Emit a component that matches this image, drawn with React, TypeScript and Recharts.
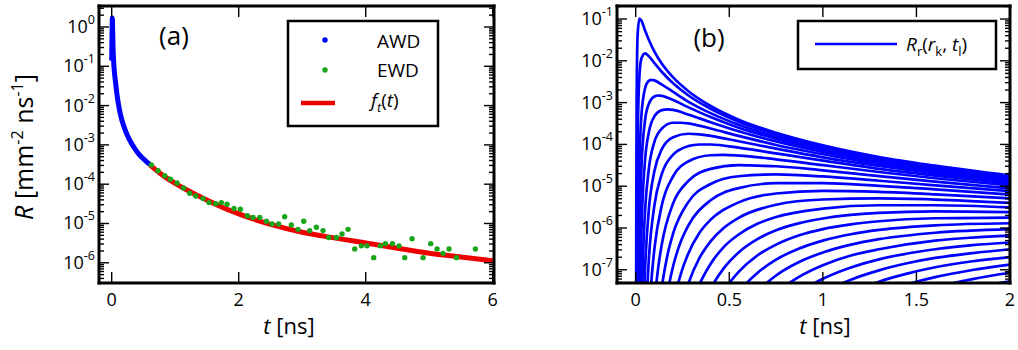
import React from "react";
import { ComposedChart, LineChart, Line, Scatter, XAxis, YAxis } from "recharts";

const FONT = "'Open Sans', 'Noto Sans', sans-serif";
const BLUE = "#0000ff";
const GREEN = "#19a519";
const RED = "#ee0000";

// panel (a): [t (ns), R (mm^-2 ns^-1)]
const awd = [
  [0, 0.14], [0.005, 0.6], [0.01, 1.7], [0.015, 0.9], [0.02, 0.35], [0.03, 0.14],
  [0.045, 0.065], [0.06, 0.04], [0.08, 0.021], [0.1, 0.0126], [0.13, 0.0068],
  [0.16, 0.0043], [0.2, 0.0027], [0.25, 0.0017], [0.3, 0.00118], [0.35, 0.00087],
  [0.4, 0.00066], [0.45, 0.00053], [0.5, 0.00044], [0.55, 0.00037], [0.6, 0.00032],
];

const ewd = [
  [0.625, 3.1e-4], [0.73, 2.2e-4], [0.835, 1.65e-4], [0.924, 1.33e-4], [1.029, 1.07e-4],
  [1.134, 8.0e-5], [1.228, 5.9e-5], [1.323, 5.0e-5], [1.438, 4.3e-5], [1.533, 3.4e-5],
  [1.638, 3.2e-5], [1.727, 3.4e-5], [1.816, 3.1e-5], [1.926, 2.4e-5], [2.026, 2.3e-5],
  [2.136, 1.58e-5], [2.226, 1.43e-5], [2.331, 1.43e-5], [2.436, 1.14e-5], [2.525, 9.7e-6],
  [2.63, 9.7e-6], [2.724, 1.49e-5], [2.829, 9.2e-6], [2.934, 7.1e-6], [3.024, 1.14e-5],
  [3.118, 6.6e-6], [3.223, 8.0e-6], [3.328, 6.6e-6], [3.417, 4.4e-6], [3.538, 4.4e-6],
  [3.627, 5.4e-6], [3.722, 7.1e-6], [3.827, 2.24e-6], [3.932, 2.7e-6], [4.021, 2.7e-6],
  [4.126, 1.35e-6], [4.231, 2.7e-6], [4.31, 3.07e-6], [4.42, 3.07e-6], [4.525, 2.7e-6],
  [4.614, 1.35e-6], [4.73, 4.1e-6], [4.903, 1.35e-6], [5.024, 3.07e-6], [5.123, 2.24e-6],
  [5.218, 1.74e-6], [5.312, 2.24e-6], [5.428, 1.35e-6], [5.727, 2.24e-6],
];

const fit = [
  [0.6, 3.1e-4], [0.8, 1.7e-4], [1.0, 1.05e-4], [1.2, 6.9e-5], [1.4, 4.7e-5],
  [1.65, 3.0e-5], [2.0, 1.75e-5], [2.5, 9.5e-6], [3.0, 6.0e-6], [3.5, 4.3e-6],
  [4.0, 3.2e-6], [4.5, 2.35e-6], [5.0, 1.75e-6], [5.5, 1.4e-6], [6.0, 1.12e-6],
];

// panel (b): R_r(r_k, t_l), one list of [t, R] per radius r_k
const rCurves = [
  [[0.002, 1.3e-9], [0.003, 3.2e-6], [0.005, 1.1e-3], [0.01, 4.0e-2], [0.02, 0.103], [0.03, 9.2e-2], [0.05, 5.3e-2], [0.07, 3.2e-2], [0.1, 1.66e-2], [0.14, 8.5e-3], [0.2, 4.0e-3], [0.28, 1.9e-3], [0.4, 8.3e-4], [0.55, 3.9e-4], [0.75, 1.9e-4], [1, 9.5e-5], [1.3, 5.0e-5], [1.6, 3.1e-5], [2, 1.8e-5]],
  [[0.005, 3.6e-9], [0.01, 7.2e-5], [0.015, 1.3e-3], [0.02, 4.4e-3], [0.03, 1.12e-2], [0.05, 1.51e-2], [0.07, 1.29e-2], [0.1, 8.8e-3], [0.14, 5.4e-3], [0.2, 2.9e-3], [0.28, 1.5e-3], [0.4, 7.1e-4], [0.55, 3.5e-4], [0.75, 1.73e-4], [1, 8.9e-5], [1.3, 4.8e-5], [1.6, 2.9e-5], [2, 1.73e-5]],
  [[0.01, 4.9e-9], [0.015, 2.1e-6], [0.02, 3.6e-5], [0.03, 4.6e-4], [0.05, 2.2e-3], [0.07, 3.3e-3], [0.085, 3.5e-3], [0.1, 3.4e-3], [0.14, 2.7e-3], [0.2, 1.8e-3], [0.28, 1.06e-3], [0.4, 5.6e-4], [0.55, 2.95e-4], [0.75, 1.52e-4], [1, 8.1e-5], [1.3, 4.5e-5], [1.6, 2.8e-5], [2, 1.65e-5]],
  [[0.015, 6.0e-9], [0.02, 4.5e-7], [0.03, 2.4e-5], [0.05, 3.8e-4], [0.07, 9.3e-4], [0.1, 1.4e-3], [0.12, 1.48e-3], [0.14, 1.45e-3], [0.2, 1.15e-3], [0.28, 7.8e-4], [0.4, 4.5e-4], [0.55, 2.5e-4], [0.75, 1.36e-4], [1, 7.4e-5], [1.3, 4.2e-5], [1.6, 2.6e-5], [2, 1.58e-5]],
  [[0.02, 1.8e-9], [0.03, 6.2e-7], [0.05, 4.2e-5], [0.07, 1.93e-4], [0.1, 4.7e-4], [0.14, 6.6e-4], [0.17, 6.9e-4], [0.2, 6.7e-4], [0.28, 5.2e-4], [0.4, 3.4e-4], [0.55, 2.06e-4], [0.75, 1.17e-4], [1, 6.6e-5], [1.3, 3.8e-5], [1.6, 2.45e-5], [2, 1.49e-5]],
  [[0.03, 5.8e-9], [0.04, 2.8e-7], [0.05, 2.6e-6], [0.07, 2.6e-5], [0.1, 1.15e-4], [0.14, 2.4e-4], [0.2, 3.3e-4], [0.24, 3.3e-4], [0.28, 3.2e-4], [0.4, 2.4e-4], [0.55, 1.6e-4], [0.75, 9.7e-5], [1, 5.8e-5], [1.3, 3.4e-5], [1.6, 2.24e-5], [2, 1.39e-5]],
  [[0.04, 5.2e-9], [0.05, 1.05e-7], [0.07, 2.7e-6], [0.1, 2.3e-5], [0.14, 7.8e-5], [0.2, 1.49e-4], [0.28, 1.8e-4], [0.34, 1.74e-4], [0.4, 1.6e-4], [0.55, 1.19e-4], [0.75, 7.9e-5], [1, 4.9e-5], [1.3, 3.05e-5], [1.6, 2.03e-5], [2, 1.29e-5]],
  [[0.05, 2.3e-9], [0.07, 1.76e-7], [0.1, 3.5e-6], [0.14, 2.0e-5], [0.2, 5.7e-5], [0.28, 9.1e-5], [0.34, 9.95e-5], [0.4, 9.95e-5], [0.55, 8.4e-5], [0.75, 6.1e-5], [1, 4.1e-5], [1.3, 2.6e-5], [1.6, 1.8e-5], [2, 1.17e-5]],
  [[0.07, 5.7e-9], [0.085, 6.3e-8], [0.1, 3.2e-7], [0.14, 3.6e-6], [0.2, 1.73e-5], [0.28, 3.9e-5], [0.4, 5.5e-5], [0.47, 5.6e-5], [0.55, 5.4e-5], [0.75, 4.4e-5], [1, 3.2e-5], [1.3, 2.19e-5], [1.6, 1.55e-5], [2, 1.04e-5]],
  [[0.09, 4.1e-9], [0.1, 1.57e-8], [0.12, 1.11e-7], [0.14, 4.2e-7], [0.2, 3.9e-6], [0.28, 1.32e-5], [0.4, 2.6e-5], [0.55, 3.2e-5], [0.65, 3.1e-5], [0.75, 3.0e-5], [1, 2.4e-5], [1.3, 1.74e-5], [1.6, 1.29e-5], [2, 8.9e-6]],
  [[0.12, 7.1e-9], [0.14, 4.0e-8], [0.17, 2.3e-7], [0.2, 7.4e-7], [0.28, 4.1e-6], [0.4, 1.13e-5], [0.55, 1.73e-5], [0.75, 1.91e-5], [1, 1.71e-5], [1.3, 1.35e-5], [1.6, 1.05e-5], [2, 7.6e-6]],
  [[0.14, 3.1e-9], [0.17, 2.8e-8], [0.2, 1.23e-7], [0.24, 4.6e-7], [0.28, 1.12e-6], [0.4, 4.6e-6], [0.55, 9.0e-6], [0.75, 1.18e-5], [1, 1.19e-5], [1.3, 1.02e-5], [1.6, 8.4e-6], [2, 6.3e-6]],
  [[0.17, 2.2e-9], [0.2, 1.43e-8], [0.24, 7.7e-8], [0.28, 2.4e-7], [0.34, 7.6e-7], [0.4, 1.57e-6], [0.55, 4.1e-6], [0.75, 6.7e-6], [1, 7.7e-6], [1.3, 7.3e-6], [1.6, 6.4e-6], [2, 5.1e-6]],
  [[0.2, 1.4e-9], [0.24, 1.09e-8], [0.28, 4.5e-8], [0.34, 1.9e-7], [0.4, 4.8e-7], [0.47, 1.0e-6], [0.55, 1.75e-6], [0.75, 3.6e-6], [1, 4.8e-6], [1.3, 5.1e-6], [1.6, 4.8e-6], [2, 4.0e-6]],
  [[0.24, 1.35e-9], [0.28, 7.6e-9], [0.34, 4.4e-8], [0.4, 1.38e-7], [0.47, 3.5e-7], [0.55, 7.0e-7], [0.65, 1.26e-6], [0.75, 1.83e-6], [1, 2.9e-6], [1.3, 3.5e-6], [1.6, 3.5e-6], [2, 3.1e-6]],
  [[0.28, 1.06e-9], [0.34, 8.6e-9], [0.4, 3.5e-8], [0.47, 1.08e-7], [0.55, 2.6e-7], [0.65, 5.4e-7], [0.75, 8.8e-7], [0.87, 1.29e-6], [1, 1.69e-6], [1.3, 2.3e-6], [1.6, 2.5e-6], [2, 2.4e-6]],
  [[0.34, 1.5e-9], [0.4, 8.0e-9], [0.47, 3.1e-8], [0.55, 8.9e-8], [0.65, 2.2e-7], [0.75, 4.0e-7], [0.87, 6.6e-7], [1, 9.4e-7], [1.15, 1.22e-6], [1.3, 1.45e-6], [1.6, 1.71e-6], [2, 1.78e-6]],
  [[0.4, 1.7e-9], [0.47, 8.2e-9], [0.55, 2.9e-8], [0.65, 8.4e-8], [0.75, 1.75e-7], [0.87, 3.2e-7], [1, 5.0e-7], [1.15, 7.1e-7], [1.3, 9.0e-7], [1.6, 1.16e-6], [2, 1.3e-6]],
  [[0.47, 2.0e-9], [0.55, 8.6e-9], [0.65, 3.0e-8], [0.75, 7.3e-8], [0.87, 1.51e-7], [1, 2.6e-7], [1.15, 4.0e-7], [1.3, 5.4e-7], [1.6, 7.7e-7], [2, 9.4e-7]],
  [[0.55, 2.4e-9], [0.65, 1.02e-8], [0.75, 2.8e-8], [0.87, 6.7e-8], [1, 1.29e-7], [1.15, 2.2e-7], [1.3, 3.1e-7], [1.6, 5.0e-7], [1.8, 5.9e-7], [2, 6.6e-7]],
  [[0.65, 3.3e-9], [0.75, 1.05e-8], [0.87, 2.8e-8], [1, 6.1e-8], [1.15, 1.14e-7], [1.3, 1.78e-7], [1.6, 3.1e-7], [1.8, 3.9e-7], [2, 4.5e-7]],
  [[0.75, 3.7e-9], [0.87, 1.16e-8], [1, 2.8e-8], [1.15, 5.8e-8], [1.3, 9.7e-8], [1.45, 1.43e-7], [1.6, 1.92e-7], [1.8, 2.5e-7], [2, 3.1e-7]],
  [[0.87, 4.5e-9], [1, 1.24e-8], [1.15, 2.8e-8], [1.3, 5.2e-8], [1.45, 8.1e-8], [1.6, 1.15e-7], [1.8, 1.6e-7], [2, 2.0e-7]],
  [[1, 5.2e-9], [1.15, 1.34e-8], [1.3, 2.7e-8], [1.45, 4.5e-8], [1.6, 6.7e-8], [1.8, 9.9e-8], [2, 1.33e-7]],
  [[1.15, 6.1e-9], [1.3, 1.34e-8], [1.45, 2.4e-8], [1.6, 3.8e-8], [1.8, 6.0e-8], [2, 8.5e-8]],
  [[1.3, 6.5e-9], [1.45, 1.26e-8], [1.6, 2.1e-8], [1.8, 3.6e-8], [2, 5.3e-8]],
];

const xTicksA = [0, 2, 4, 6];
const xTicksB = [0, 0.5, 1, 1.5, 2];
const decadesA = [-7, -6, -5, -4, -3, -2, -1, 0];
const decadesB = [-8, -7, -6, -5, -4, -3, -2, -1];
const yDomainA = [3.06e-7, 3.42];
const yDomainB = [4.83e-8, 0.205];

const toPts = (rows: number[][]) => rows.map(([t, r]) => ({ t, r }));

function logTicks(decades: number[], lo: number, hi: number) {
  const out: number[] = [];
  decades.forEach((d) => {
    for (let m = 1; m <= 9; m++) {
      const v = m * Math.pow(10, d);
      if (v >= lo && v <= hi) out.push(v);
    }
  });
  return out;
}

const isDecade = (v: number) => {
  const l = Math.log10(v);
  return Math.abs(l - Math.round(l)) < 1e-6;
};

const frame = { stroke: "#000", strokeWidth: 3, strokeLinecap: "square" as const };
const tk = { stroke: "#000", strokeWidth: 1.4 };

function LogTickLeft({ x, y, payload }: any) {
  const v = payload.value;
  const major = isDecade(v);
  return (
    <g>
      <line x1={x} x2={x + (major ? 10 : 5)} y1={y} y2={y} {...tk} />
      {major && (
        <text x={x - 4} y={y + 6} textAnchor="end" fontFamily={FONT} fontSize={18} fill="#000">
          10<tspan dy={-9} fontSize={12.5}>{Math.round(Math.log10(v))}</tspan>
        </text>
      )}
    </g>
  );
}

function LogTickRight({ x, y, payload }: any) {
  const major = isDecade(payload.value);
  return <line x1={x} x2={x - (major ? 10 : 5)} y1={y} y2={y} {...tk} />;
}

function TickBottom({ x, y, payload }: any) {
  return (
    <g>
      <line x1={x} x2={x} y1={y} y2={y - 11} {...tk} />
      <text x={x} y={y + 23} textAnchor="middle" fontFamily={FONT} fontSize={18} fill="#000">
        {String(payload.value)}
      </text>
    </g>
  );
}

function TickTop({ x, y }: any) {
  return <line x1={x} x2={x} y1={y} y2={y + 11} {...tk} />;
}

export default function App() {
  const yTicksA = logTicks(decadesA, yDomainA[0], yDomainA[1]);
  const yTicksB = logTicks(decadesB, yDomainB[0], yDomainB[1]);
  const awdPts = toPts(awd);
  const ewdPts = toPts(ewd);
  const fitPts = toPts(fit);

  return (
    <div style={{ position: "absolute", left: 0, top: 0, width: 1018, height: 350, background: "#fff", fontFamily: FONT }}>
      <div style={{ position: "absolute", left: 0, top: 0 }}>
        <ComposedChart width={500} height={350} margin={{ top: 5, right: 5, bottom: 0, left: 0 }}>
          <XAxis xAxisId={0} type="number" dataKey="t" domain={[-0.2, 6.02]} allowDataOverflow ticks={xTicksA} interval={0}
            tickSize={0} tickMargin={0} tick={TickBottom} tickLine={false} axisLine={frame} height={67} />
          <XAxis xAxisId="top" orientation="top" type="number" dataKey="t" domain={[-0.2, 6.02]} allowDataOverflow ticks={xTicksA} interval={0}
            tickSize={0} tickMargin={0} tick={TickTop} tickLine={false} axisLine={frame} height={1} />
          <YAxis yAxisId={0} type="number" dataKey="r" scale="log" domain={yDomainA} allowDataOverflow ticks={yTicksA} interval={0}
            tickSize={0} tickMargin={0} tick={LogTickLeft} tickLine={false} axisLine={frame} width={99} />
          <YAxis yAxisId="right" orientation="right" type="number" dataKey="r" scale="log" domain={yDomainA} allowDataOverflow ticks={yTicksA} interval={0}
            tickSize={0} tickMargin={0} tick={LogTickRight} tickLine={false} axisLine={frame} width={1} />
          <Line xAxisId="top" yAxisId="right" data={fitPts} dataKey="r" stroke="none" dot={false} isAnimationActive={false} legendType="none" />
          <Line data={awdPts} dataKey="r" type="monotone" stroke={BLUE} strokeWidth={5} dot={false} isAnimationActive={false} name="AWD" />
          <Line data={fitPts} dataKey="r" type="monotone" stroke={RED} strokeWidth={5} dot={false} isAnimationActive={false} name="f_t(t)" />
          <Scatter data={ewdPts} fill={GREEN} isAnimationActive={false} name="EWD"
            shape={(p: any) => <circle cx={p.cx} cy={p.cy} r={2.7} fill={GREEN} />} />
        </ComposedChart>
      </div>

      <div style={{ position: "absolute", left: 512, top: 0 }}>
        <LineChart width={506} height={350} margin={{ top: 5, right: 7, bottom: 0, left: 0 }}>
          <XAxis xAxisId={0} type="number" dataKey="t" domain={[-0.1, 2]} allowDataOverflow ticks={xTicksB} interval={0}
            tickSize={0} tickMargin={0} tick={TickBottom} tickLine={false} axisLine={frame} height={67} />
          <XAxis xAxisId="top" orientation="top" type="number" dataKey="t" domain={[-0.1, 2]} allowDataOverflow ticks={xTicksB} interval={0}
            tickSize={0} tickMargin={0} tick={TickTop} tickLine={false} axisLine={frame} height={1} />
          <YAxis yAxisId={0} type="number" dataKey="r" scale="log" domain={yDomainB} allowDataOverflow ticks={yTicksB} interval={0}
            tickSize={0} tickMargin={0} tick={LogTickLeft} tickLine={false} axisLine={frame} width={105} />
          <YAxis yAxisId="right" orientation="right" type="number" dataKey="r" scale="log" domain={yDomainB} allowDataOverflow ticks={yTicksB} interval={0}
            tickSize={0} tickMargin={0} tick={LogTickRight} tickLine={false} axisLine={frame} width={1} />
          <Line xAxisId="top" yAxisId="right" data={toPts(rCurves[0])} dataKey="r" stroke="none" dot={false} isAnimationActive={false} />
          {rCurves.map((c, i) => (
            <Line key={i} data={toPts(c)} dataKey="r" type="monotone" stroke={BLUE} strokeWidth={2.7} dot={false} isAnimationActive={false} />
          ))}
        </LineChart>
      </div>

      <svg width={1018} height={350} style={{ position: "absolute", left: 0, top: 0, pointerEvents: "none" }} fontFamily={FONT} fill="#000">
        <text transform="translate(33,147) rotate(-90)" textAnchor="middle" fontSize={25}>
          <tspan fontStyle="italic">R</tspan> [mm<tspan dy={-10} fontSize={16}>-2</tspan><tspan dy={10}> ns</tspan><tspan dy={-10} fontSize={16}>-1</tspan><tspan dy={10}>]</tspan>
        </text>
        <text x={289} y={334} textAnchor="middle" fontSize={22}><tspan fontStyle="italic">t</tspan> [ns]</text>
        <text x={825} y={334} textAnchor="middle" fontSize={22}><tspan fontStyle="italic">t</tspan> [ns]</text>

        <text x={174} y={45} textAnchor="middle" fontSize={26}>(a)</text>
        <text x={709} y={47} textAnchor="middle" fontSize={26}>(b)</text>

        <rect x={288} y={21} width={150} height={105} fill="#fff" stroke="#000" strokeWidth={2.5} />
        <circle cx={325} cy={40} r={2.7} fill={BLUE} />
        <text x={377} y={48} fontSize={19}>AWD</text>
        <circle cx={325} cy={70} r={2.7} fill={GREEN} />
        <text x={377} y={77} fontSize={19}>EWD</text>
        <line x1={301} x2={335} y1={103} y2={103} stroke={RED} strokeWidth={4.5} />
        <text x={371} y={107} fontSize={19}>
          <tspan fontStyle="italic">f</tspan><tspan fontStyle="italic" fontSize={13} dy={5}>t</tspan><tspan dy={-5}>(</tspan><tspan fontStyle="italic">t</tspan>)
        </text>

        <rect x={798} y={21} width={198} height={48} fill="#fff" stroke="#000" strokeWidth={2.5} />
        <line x1={815} x2={897} y1={44} y2={44} stroke={BLUE} strokeWidth={2.5} />
        <text x={906} y={51} fontSize={19}>
          <tspan fontStyle="italic">R</tspan><tspan fontSize={13} dy={5}>r</tspan><tspan dy={-5}>(</tspan><tspan fontStyle="italic">r</tspan><tspan fontSize={13} dy={5}>k</tspan><tspan dy={-5}>, </tspan><tspan fontStyle="italic">t</tspan><tspan fontSize={13} dy={5}>l</tspan><tspan dy={-5}>)</tspan>
        </text>
      </svg>
    </div>
  );
}
